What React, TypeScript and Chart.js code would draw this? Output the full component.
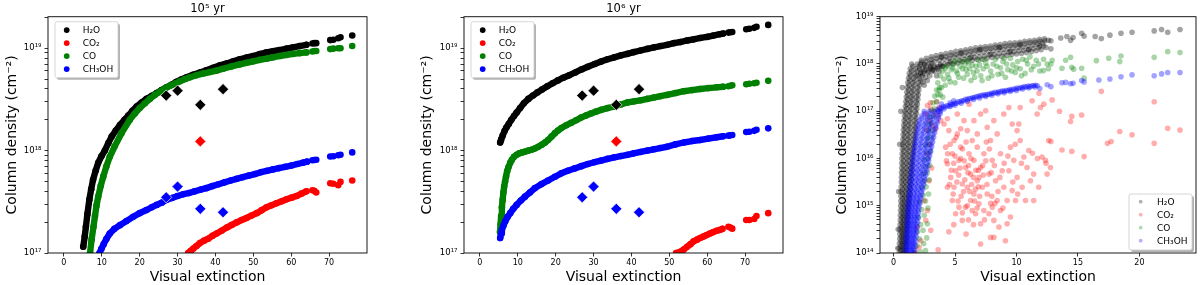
import React, { useEffect, useRef } from 'react';
import { Chart, registerables } from 'chart.js';

Chart.register(...registerables);

type Pt = [number, number];

const FONT = "'DejaVu Sans', 'Liberation Sans', sans-serif";

const SPECIES = ['H₂O', 'CO₂', 'CO', 'CH₃OH'];
const COLORS = ['#000000', '#ff0000', '#008000', '#0000ff'];
const COLORS_A = ['rgba(0,0,0,0.36)', 'rgba(255,0,0,0.32)', 'rgba(0,128,0,0.34)', 'rgba(0,0,255,0.36)'];
const COLORS_LEG = ['rgba(0,0,0,0.3)', 'rgba(255,0,0,0.3)', 'rgba(0,128,0,0.3)', 'rgba(0,0,255,0.3)'];

const P1_TITLE = '10⁵ yr';
const P2_TITLE = '10⁶ yr';
const X_TITLE = 'Visual extinction';
const Y_TITLE = 'Column density (cm⁻²)';

const P12_X_TICKS = [0, 10, 20, 30, 40, 50, 60, 70];
const P3_X_TICKS = [0, 5, 10, 15, 20];
const P12_Y_TICKS = [
  1e17, 2e17, 3e17, 4e17, 5e17, 6e17, 7e17, 8e17, 9e17,
  1e18, 2e18, 3e18, 4e18, 5e18, 6e18, 7e18, 8e18, 9e18,
  1e19, 2e19,
];
const P12_Y_MAJOR = [1e17, 1e18, 1e19];
const P12_Y_LABELS = ['10¹⁷', '10¹⁸', '10¹⁹'];
const P3_Y_TICKS = [
  1e14, 2e14, 3e14, 4e14, 5e14, 6e14, 7e14, 8e14, 9e14,
  1e15, 2e15, 3e15, 4e15, 5e15, 6e15, 7e15, 8e15, 9e15,
  1e16, 2e16, 3e16, 4e16, 5e16, 6e16, 7e16, 8e16, 9e16,
  1e17, 2e17, 3e17, 4e17, 5e17, 6e17, 7e17, 8e17, 9e17,
  1e18, 2e18, 3e18, 4e18, 5e18, 6e18, 7e18, 8e18, 9e18,
  1e19,
];
const P3_Y_MAJOR = [1e14, 1e15, 1e16, 1e17, 1e18, 1e19];
const P3_Y_LABELS = ['10¹⁴', '10¹⁵', '10¹⁶', '10¹⁷', '10¹⁸', '10¹⁹'];

// ---------- observed values (diamonds), same in panels 1 and 2 ----------
const OBS_AV = [27, 30, 36, 42];
const OBS_H2O = [3.45e18, 3.85e18, 2.8e18, 3.98e18];
const OBS_CO2_AV = [36];
const OBS_CO2 = [1.23e18];
const OBS_CH3OH = [3.5e17, 4.45e17, 2.7e17, 2.5e17];

// ---------- panel 1 (10^5 yr): [Av, N cm^-2] ----------
const P1_H2O: Pt[] = [
  [5.1, 1.15e17], [5.5, 1.45e17], [5.8, 1.8e17], [6.2, 2.4e17], [6.7, 3.3e17], [7.2, 4.2e17], [7.7, 5.2e17],
  [8.4, 6.4e17], [9.05, 7.6e17], [9.9, 8.8e17], [10.8, 1.0e18], [11.7, 1.18e18], [12.6, 1.37e18], [13.7, 1.57e18],
  [14.8, 1.78e18], [16, 2.0e18], [17, 2.2e18], [18.1, 2.45e18], [19.2, 2.7e18], [20.5, 2.95e18], [21.8, 3.2e18],
  [23.2, 3.42e18], [24.5, 3.65e18], [25.8, 3.9e18], [27.1, 4.15e18], [28.4, 4.4e18], [29.7, 4.7e18], [31, 4.95e18],
  [32.4, 5.2e18], [34.1, 5.5e18], [35.9, 5.8e18], [37.6, 6.1e18], [39.4, 6.45e18], [41.2, 6.8e18], [43, 7.1e18],
  [44.7, 7.45e18], [46.4, 7.8e18], [48.2, 8.1e18], [50, 8.4e18], [51.7, 8.75e18], [53.5, 9.1e18], [55.2, 9.35e18],
  [57, 9.6e18], [58.8, 9.9e18], [60.5, 1.02e19], [62.2, 1.05e19], [64, 1.08e19],
];
const P1_H2O_TAIL: Pt[] = [
  [65.6, 1.11e19], [66.1, 1.12e19], [66.6, 1.12e19], [70.3, 1.2e19], [71.1, 1.21e19], [72.4, 1.25e19], [73, 1.28e19], [76.1, 1.33e19],
];
const P1_CO2: Pt[] = [
  [32.8, 1.0e17], [33.5, 1.05e17], [34.1, 1.1e17], [35, 1.17e17], [35.9, 1.25e17], [37, 1.32e17], [38.1, 1.38e17],
  [39.2, 1.47e17], [40.3, 1.55e17], [41.6, 1.65e17], [43, 1.77e17], [44.3, 1.88e17], [45.6, 1.99e17], [46.9, 2.1e17],
  [48.2, 2.2e17], [49.5, 2.32e17], [50.9, 2.45e17], [52.2, 2.62e17], [53.5, 2.8e17], [54.8, 2.92e17], [56.1, 3.06e17],
  [57.5, 3.2e17], [58.8, 3.35e17], [60.1, 3.47e17], [61.4, 3.6e17], [62.7, 3.8e17], [64, 4.0e17],
];
const P1_CO2_TAIL: Pt[] = [
  [65.6, 4.1e17], [66.1, 4.05e17], [66.6, 3.9e17], [70.3, 4.8e17], [71.1, 4.75e17], [72.4, 4.6e17], [73, 4.95e17], [76.1, 5.1e17],
];
const P1_CO: Pt[] = [
  [6.9, 1.0e17], [7.3, 1.35e17], [7.8, 1.8e17], [8.2, 2.3e17], [8.6, 2.9e17], [9.05, 3.55e17], [9.7, 4.5e17],
  [10.4, 5.6e17], [11.2, 7.0e17], [12.1, 8.7e17], [13.4, 1.1e18], [15.2, 1.48e18], [17.4, 2.0e18], [18.7, 2.3e18],
  [20, 2.6e18], [21.4, 2.9e18], [22.7, 3.2e18], [24, 3.5e18], [25.3, 3.75e18], [26.7, 4.05e18], [28, 4.3e18],
  [29.3, 4.5e18], [30.6, 4.75e18], [32, 5.0e18], [33.3, 5.2e18], [35, 5.45e18], [36.7, 5.65e18], [38.5, 5.85e18],
  [40.3, 6.05e18], [42, 6.3e18], [44, 6.6e18], [46.4, 6.95e18], [48.2, 7.2e18], [50, 7.45e18], [51.7, 7.7e18],
  [53.5, 7.9e18], [55.2, 8.15e18], [57, 8.4e18], [58.8, 8.6e18], [60.5, 8.8e18], [62.2, 8.95e18], [64, 9.1e18],
];
const P1_CO_TAIL: Pt[] = [
  [65.6, 9.3e18], [66.1, 9.4e18], [66.6, 9.4e18], [70.3, 9.8e18], [71.1, 9.9e18], [72.4, 1.0e19], [73, 1.0e19], [76.1, 1.05e19],
];
const P1_CH3OH: Pt[] = [
  [9.4, 1.0e17], [9.9, 1.1e17], [10.5, 1.22e17], [11.2, 1.37e17], [12.1, 1.55e17], [13.3, 1.72e17], [14.8, 1.87e17],
  [16.5, 2.05e17], [18.3, 2.26e17], [20, 2.45e17], [21.8, 2.63e17], [23.2, 2.8e17], [24.5, 2.95e17], [25.8, 3.1e17],
  [27, 3.3e17], [28.5, 3.45e17], [30, 3.6e17], [31.5, 3.75e17], [33, 3.85e17], [34.5, 4.0e17], [36, 4.15e17],
  [37.6, 4.3e17], [39.2, 4.5e17], [40.8, 4.7e17], [42.4, 4.9e17], [44, 5.1e17], [45.6, 5.3e17], [47.2, 5.5e17],
  [48.8, 5.7e17], [50.4, 5.9e17], [52, 6.15e17], [53.6, 6.35e17], [55.2, 6.55e17], [56.8, 6.75e17], [58.4, 6.95e17],
  [60, 7.15e17], [61.6, 7.4e17], [63.2, 7.65e17], [64.2, 7.8e17],
];
const P1_CH3OH_TAIL: Pt[] = [
  [65.6, 8.05e17], [66.1, 8.1e17], [66.6, 8.15e17], [70.3, 8.75e17], [71.1, 8.8e17], [72.4, 9.0e17], [73, 9.1e17], [76.1, 9.6e17],
];

// ---------- panel 2 (10^6 yr): [Av, N cm^-2] ----------
const P2_H2O: Pt[] = [
  [5.35, 1.2e18], [5.6, 1.28e18], [6.0, 1.4e18], [6.5, 1.55e18], [7.0, 1.68e18], [7.6, 1.82e18], [8.3, 2.0e18],
  [9.0, 2.18e18], [9.7, 2.35e18], [10.6, 2.6e18], [11.6, 2.9e18], [12.8, 3.2e18], [14, 3.45e18], [15.2, 3.7e18],
  [16.4, 3.95e18], [17.8, 4.25e18], [19.2, 4.55e18], [20.6, 4.85e18], [22, 5.15e18], [23.6, 5.45e18], [25.2, 5.8e18],
  [26.8, 6.2e18], [28.5, 6.6e18], [30.3, 7.0e18], [32, 7.4e18], [33.7, 7.8e18], [35.5, 8.15e18], [37.2, 8.5e18],
  [38.9, 8.8e18], [40.6, 9.15e18], [42.4, 9.5e18], [44.2, 9.85e18], [46, 1.02e19], [47.7, 1.05e19], [49.4, 1.08e19],
  [51.2, 1.12e19], [53, 1.15e19], [54.7, 1.19e19], [56.4, 1.22e19], [58.2, 1.26e19], [60, 1.29e19], [61.6, 1.33e19],
  [63.3, 1.37e19], [64.2, 1.39e19],
];
const P2_H2O_TAIL: Pt[] = [
  [65.6, 1.42e19], [66.1, 1.43e19], [66.6, 1.44e19], [70.3, 1.53e19], [71.1, 1.55e19], [72.4, 1.58e19], [73, 1.62e19], [76.1, 1.69e19],
];
const P2_CO2: Pt[] = [
  [51.8, 1.0e17], [52.9, 1.03e17], [53.8, 1.08e17], [54.7, 1.15e17], [55.6, 1.22e17], [56.4, 1.3e17], [57.3, 1.35e17],
  [58.1, 1.4e17], [59, 1.45e17], [59.9, 1.5e17], [60.7, 1.55e17], [61.6, 1.6e17], [62.5, 1.65e17], [63.3, 1.68e17], [64, 1.72e17],
];
const P2_CO2_TAIL: Pt[] = [
  [65.6, 1.8e17], [66.1, 1.77e17], [66.6, 1.73e17], [70.3, 2.1e17], [71.1, 2.1e17], [72.4, 2.15e17], [73, 2.3e17], [76.1, 2.45e17],
];
const P2_CO: Pt[] = [
  [5.3, 1.6e17], [5.45, 1.9e17], [5.6, 2.3e17], [5.8, 2.8e17], [6.0, 3.3e17], [6.2, 3.9e17], [6.4, 4.45e17],
  [6.65, 5.0e17], [6.9, 5.6e17], [7.2, 6.3e17], [7.55, 6.9e17], [8.0, 7.6e17], [8.4, 8.1e17], [9.0, 8.7e17],
  [9.7, 9.1e17], [10.4, 9.4e17], [11.2, 9.6e17], [12, 9.8e17], [12.8, 1.0e18], [13.6, 1.02e18], [14.5, 1.05e18],
  [15.4, 1.09e18], [16.3, 1.14e18], [17.2, 1.2e18], [18, 1.27e18], [18.9, 1.37e18], [19.8, 1.48e18], [20.6, 1.57e18],
  [21.5, 1.66e18], [22.8, 1.77e18], [24.1, 1.87e18], [25.4, 1.98e18], [26.7, 2.1e18], [28, 2.2e18], [29.3, 2.3e18],
  [30.6, 2.4e18], [32, 2.5e18], [33.7, 2.6e18], [35.5, 2.7e18], [37.2, 2.82e18], [38.9, 2.95e18], [40.6, 3.02e18],
  [42.4, 3.1e18], [44.2, 3.2e18], [45.9, 3.3e18], [47.6, 3.4e18], [49.4, 3.5e18], [51.6, 3.65e18], [53.8, 3.8e18],
  [56, 3.9e18], [58.1, 4.0e18], [60.3, 4.08e18], [62.5, 4.15e18], [64.2, 4.2e18],
];
const P2_CO_TAIL: Pt[] = [
  [65.6, 4.25e18], [66.1, 4.3e18], [66.6, 4.35e18], [70.3, 4.45e18], [71.1, 4.5e18], [72.4, 4.55e18], [73, 4.6e18], [76.1, 4.8e18],
];
const P2_CH3OH: Pt[] = [
  [5.35, 1.4e17], [5.6, 1.55e17], [5.8, 1.68e17], [6.2, 1.85e17], [6.7, 2.04e17], [7.3, 2.25e17], [8.0, 2.45e17],
  [8.8, 2.7e17], [9.7, 2.95e17], [10.8, 3.25e17], [11.9, 3.55e17], [13.2, 3.9e17], [14.5, 4.3e17], [16.2, 4.7e17],
  [18, 5.1e17], [19.8, 5.55e17], [21.5, 6.0e17], [23.2, 6.35e17], [25, 6.7e17], [26.8, 7.05e17], [28.5, 7.4e17],
  [30.2, 7.7e17], [32, 8.0e17], [33.7, 8.3e17], [35.5, 8.6e17], [37.2, 8.85e17], [38.9, 9.1e17], [40.6, 9.4e17],
  [42.4, 9.7e17], [44.2, 1.0e18], [45.9, 1.03e18], [47.6, 1.06e18], [49.4, 1.09e18], [51.6, 1.15e18], [53.8, 1.2e18],
  [56, 1.24e18], [58.1, 1.27e18], [60.3, 1.31e18], [62.5, 1.35e18], [64.2, 1.38e18],
];
const P2_CH3OH_TAIL: Pt[] = [
  [65.6, 1.4e18], [66.1, 1.41e18], [66.6, 1.42e18], [70.3, 1.52e18], [71.1, 1.53e18], [72.4, 1.56e18], [73, 1.6e18], [76.1, 1.65e18],
];

// ---------- panel 3 (scatter): [Av, log10 N] ----------
const P3_H2O: Pt[] = [
  [0.45, 14.0], [0.68, 14.0], [0.9, 14.0], [0.47, 14.1], [0.7, 14.1], [0.93, 14.1], [0.48, 14.2], [0.72, 14.2], [0.96, 14.2],
  [0.5, 14.3], [0.74, 14.3], [0.98, 14.3], [0.51, 14.4], [0.76, 14.4], [1.0, 14.4], [0.52, 14.5], [0.78, 14.5], [1.03, 14.5],
  [0.53, 14.6], [0.8, 14.6], [1.06, 14.6], [0.55, 14.7], [0.82, 14.7], [1.08, 14.7], [0.56, 14.8], [0.84, 14.8], [1.1, 14.8],
  [0.57, 14.9], [0.86, 14.9], [1.13, 14.9], [0.58, 15.0], [0.88, 15.0], [1.16, 15.0], [0.59, 15.1], [0.9, 15.1], [1.19, 15.1],
  [0.6, 15.2], [0.92, 15.2], [1.22, 15.2], [0.61, 15.3], [0.94, 15.3], [1.25, 15.3], [0.62, 15.4], [0.96, 15.4], [1.28, 15.4],
  [0.63, 15.5], [0.98, 15.5], [1.31, 15.5], [0.64, 15.6], [1.0, 15.6], [1.34, 15.6], [0.65, 15.7], [1.02, 15.7], [1.37, 15.7],
  [0.66, 15.8], [1.04, 15.8], [1.4, 15.8], [0.67, 15.9], [1.06, 15.9], [1.43, 15.9], [0.68, 16.0], [1.08, 16.0], [1.46, 16.0],
  [0.7, 16.1], [1.1, 16.1], [1.5, 16.1], [0.72, 16.2], [1.12, 16.2], [1.53, 16.2], [0.74, 16.3], [1.14, 16.3], [1.56, 16.3],
  [0.76, 16.4], [1.16, 16.4], [1.59, 16.4], [0.78, 16.5], [1.18, 16.5], [1.62, 16.5], [0.8, 16.6], [1.2, 16.6], [1.65, 16.6],
  [0.83, 16.7], [1.23, 16.7], [1.68, 16.7], [0.86, 16.8], [1.26, 16.8], [1.71, 16.8], [0.89, 16.9], [1.29, 16.9], [1.74, 16.9],
  [0.92, 17.0], [1.32, 17.0], [1.77, 17.0], [0.96, 17.1], [1.36, 17.1], [1.8, 17.1], [1.0, 17.2], [1.4, 17.2], [1.84, 17.2],
  [1.04, 17.3], [1.44, 17.3], [1.88, 17.3], [1.08, 17.4], [1.48, 17.4], [1.92, 17.4], [1.12, 17.5], [1.52, 17.5], [1.97, 17.5],
  [1.16, 17.6], [1.57, 17.6], [2.02, 17.6], [2.4, 17.62], [1.22, 17.7], [1.63, 17.7], [2.1, 17.7], [2.6, 17.72],
  [1.28, 17.8], [1.7, 17.8], [2.2, 17.8], [2.8, 17.82], [3.3, 17.85], [1.36, 17.9], [1.8, 17.9], [2.35, 17.9], [3.0, 17.92], [3.6, 17.94],
  [1.48, 18.0], [1.95, 18.0], [2.5, 18.0], [3.1, 18.02], [3.8, 18.0],
  [0.58, 14.05], [0.81, 14.05], [1.03, 14.05], [0.6, 14.15], [0.83, 14.15], [1.06, 14.15], [0.61, 14.25], [0.85, 14.25], [1.09, 14.25],
  [0.63, 14.35], [0.87, 14.35], [1.11, 14.35], [0.64, 14.45], [0.89, 14.45], [1.14, 14.45], [0.65, 14.55], [0.91, 14.55], [1.17, 14.55],
  [0.66, 14.65], [0.93, 14.65], [1.19, 14.65], [0.68, 14.75], [0.95, 14.75], [1.21, 14.75], [0.69, 14.85], [0.97, 14.85], [1.24, 14.85],
  [0.7, 14.95], [0.99, 14.95], [1.27, 14.95], [0.71, 15.05], [1.01, 15.05], [1.3, 15.05], [0.72, 15.15], [1.03, 15.15], [1.33, 15.15],
  [0.73, 15.25], [1.05, 15.25], [1.36, 15.25], [0.74, 15.35], [1.07, 15.35], [1.39, 15.35], [0.75, 15.45], [1.09, 15.45], [1.42, 15.45],
  [0.76, 15.55], [1.11, 15.55], [1.45, 15.55], [0.77, 15.65], [1.13, 15.65], [1.48, 15.65], [0.78, 15.75], [1.15, 15.75], [1.51, 15.75],
  [0.79, 15.85], [1.17, 15.85], [1.54, 15.85], [0.8, 15.95], [1.19, 15.95], [1.57, 15.95], [0.81, 16.05], [1.21, 16.05], [1.6, 16.05],
  [0.83, 16.15], [1.23, 16.15], [1.63, 16.15], [0.85, 16.25], [1.25, 16.25], [1.66, 16.25], [0.87, 16.35], [1.27, 16.35], [1.69, 16.35],
  [0.89, 16.45], [1.29, 16.45], [1.72, 16.45], [0.91, 16.55], [1.31, 16.55], [1.75, 16.55], [0.93, 16.65], [1.34, 16.65], [1.78, 16.65],
  [0.96, 16.75], [1.37, 16.75], [1.81, 16.75], [0.99, 16.85], [1.4, 16.85], [1.84, 16.85], [1.02, 16.95], [1.43, 16.95], [1.87, 16.95],
  [1.06, 17.05], [1.47, 17.05], [1.9, 17.05], [1.1, 17.15], [1.5, 17.15], [1.94, 17.15], [1.14, 17.25], [1.54, 17.25], [1.98, 17.25],
  [1.18, 17.35], [1.58, 17.35], [2.02, 17.35], [1.22, 17.45], [1.62, 17.45], [2.06, 17.45], [1.26, 17.55], [1.67, 17.55], [2.12, 17.55], [2.5, 17.55],
  [1.32, 17.65], [1.74, 17.65], [2.22, 17.65], [2.75, 17.65], [1.38, 17.75], [1.82, 17.75], [2.35, 17.75], [2.95, 17.75], [3.5, 17.75],
  [1.46, 17.85], [1.92, 17.85], [2.5, 17.85], [3.15, 17.85], [3.7, 17.85], [1.58, 17.95], [2.08, 17.95], [2.65, 17.95], [3.3, 17.95], [3.95, 17.95],
  [0.35, 14.1], [0.38, 14.5], [0.42, 15.3], [0.5, 16.3], [0.6, 17.0], [0.72, 17.5],
  [2.0, 17.75], [2.13, 17.9], [2.27, 18.08], [2.4, 17.8], [2.53, 17.98], [2.67, 18.12], [2.8, 17.85], [2.93, 18.02], [3.07, 18.15],
  [3.2, 17.88], [3.33, 18.05], [3.47, 18.18], [3.6, 17.9], [3.73, 18.08], [3.87, 18.2], [4.0, 17.95], [4.13, 18.1], [4.27, 18.22],
  [4.4, 17.98], [4.53, 18.12], [4.67, 18.24], [4.8, 18.0], [4.93, 18.15], [5.07, 18.27], [5.2, 18.02], [5.33, 18.16], [5.47, 18.28],
  [5.6, 18.05], [5.73, 18.18], [5.87, 18.3], [6.0, 18.06], [6.13, 18.2], [6.27, 18.32], [6.4, 18.08], [6.53, 18.22], [6.67, 18.34],
  [6.8, 18.1], [6.93, 18.24], [7.07, 18.35], [7.2, 18.1], [7.33, 18.25], [7.47, 18.37], [7.6, 18.12], [7.73, 18.27], [7.87, 18.38],
  [8.0, 18.14], [8.13, 18.28], [8.27, 18.4], [8.4, 18.15], [8.53, 18.3], [8.67, 18.41], [8.8, 18.16], [8.93, 18.31], [9.07, 18.43],
  [9.2, 18.18], [9.33, 18.32], [9.47, 18.44], [9.6, 18.2], [9.73, 18.34], [9.87, 18.45], [10.0, 18.21], [10.13, 18.35], [10.27, 18.46],
  [10.4, 18.22], [10.53, 18.36], [10.67, 18.48], [10.8, 18.24], [10.93, 18.38], [11.07, 18.49], [11.2, 18.26], [11.33, 18.4], [11.47, 18.5],
  [11.6, 18.28], [11.73, 18.42], [11.87, 18.52], [12.0, 18.3], [12.13, 18.44], [12.27, 18.53], [12.4, 18.35], [12.6, 18.5],
  [2.2, 17.82], [2.3, 18.04], [2.6, 17.88], [2.7, 18.06], [3.0, 17.9], [3.1, 18.1], [3.4, 17.93], [3.5, 18.12], [3.8, 17.96], [3.9, 18.14],
  [4.2, 18.0], [4.3, 18.16], [4.6, 18.02], [4.7, 18.19], [5.0, 18.05], [5.1, 18.2], [5.4, 18.08], [5.5, 18.24], [5.8, 18.1], [5.9, 18.25],
  [6.2, 18.12], [6.3, 18.27], [6.6, 18.14], [6.7, 18.29], [7.0, 18.15], [7.1, 18.31], [7.4, 18.17], [7.5, 18.32], [7.8, 18.19], [7.9, 18.33],
  [8.2, 18.2], [8.3, 18.35], [8.6, 18.22], [8.7, 18.36], [9.0, 18.23], [9.1, 18.38], [9.4, 18.25], [9.5, 18.39], [9.8, 18.26], [9.9, 18.4],
  [10.2, 18.28], [10.3, 18.42], [10.6, 18.29], [10.7, 18.43], [11.0, 18.31], [11.1, 18.45], [11.4, 18.33], [11.5, 18.46], [11.8, 18.35],
  [11.9, 18.48], [12.2, 18.38], [12.3, 18.49],
  [2.2, 18.0], [3.0, 17.95], [3.9, 18.15], [4.6, 18.06], [5.5, 18.22], [6.3, 18.14], [7.0, 18.3], [7.9, 18.2], [8.6, 18.35],
  [9.5, 18.26], [10.3, 18.4], [11.0, 18.3], [11.9, 18.38],
  [12.8, 18.49], [12.8, 18.32], [13.6, 18.55], [14.1, 18.58], [14.4, 18.5], [14.6, 18.56], [15.3, 18.65], [15.5, 18.59],
  [16.4, 18.58], [16.9, 18.54], [17.6, 18.61], [18.5, 18.65], [19.4, 18.67], [21.2, 18.7], [21.8, 18.73], [22.3, 18.67], [23.3, 18.73],
];
const P3_CO2: Pt[] = [
  [2.76, 17.12], [3.03, 17.05], [2.62, 16.94], [3.3, 17.0], [2.89, 16.8], [3.57, 16.91], [3.16, 16.7], [3.84, 16.8], [3.43, 16.63],
  [4.11, 16.73], [3.7, 17.08], [4.38, 16.84], [3.0, 17.18], [2.7, 16.6], [3.5, 17.2],
  [2.76, 16.1], [2.89, 15.53], [2.49, 15.11], [2.62, 14.69], [2.22, 14.26], [2.08, 14.12], [3.03, 14.48], [1.95, 14.55],
  [2.76, 14.9], [1.81, 14.02], [3.63, 14.07], [2.9, 16.3], [3.1, 15.8],
  [4.5, 16.59], [4.92, 16.38], [4.24, 16.24], [5.19, 16.52], [4.78, 16.1], [5.46, 16.63], [4.38, 15.89], [5.05, 15.74],
  [4.65, 15.6], [5.32, 15.96], [5.59, 15.46], [4.92, 15.39], [5.46, 16.24], [5.19, 16.94], [5.73, 16.8], [4.78, 15.11],
  [5.32, 14.97], [5.59, 14.69], [5.05, 14.83], [4.38, 15.39],
  [6.0, 16.59], [6.4, 16.38], [6.14, 16.1], [6.81, 16.24], [6.54, 15.96], [5.86, 15.81], [7.08, 15.81], [6.27, 15.67],
  [6.81, 15.53], [6.0, 15.39], [6.54, 15.25], [7.22, 15.39], [6.27, 15.11], [6.95, 15.04], [6.68, 14.83], [7.35, 14.9],
  [7.08, 16.94], [6.54, 16.8], [6.14, 17.15], [6.81, 16.52], [7.35, 16.1], [5.86, 14.97], [7.08, 14.62],
  [7.62, 16.66], [8.16, 16.8], [7.89, 16.38], [8.43, 16.52], [8.03, 15.96], [8.7, 16.1], [7.76, 15.67], [8.3, 15.53],
  [8.84, 15.74], [7.62, 15.25], [8.43, 15.11], [8.03, 14.97], [8.7, 14.9], [8.97, 15.39], [8.16, 14.69], [7.76, 14.83],
  [8.57, 14.55], [7.89, 14.33], [8.97, 16.94], [7.49, 17.01], [9.24, 14.62],
  [9.38, 17.08], [9.65, 16.73], [10.05, 16.59], [9.51, 16.24], [10.3, 16.38], [9.78, 15.96], [10.6, 16.03], [9.38, 15.74],
  [10.05, 15.6], [10.86, 15.81], [9.65, 15.32], [10.46, 15.39], [11.14, 15.53], [9.92, 15.11], [10.73, 15.11], [10.19, 16.73],
  [10.3, 17.08], [11.0, 16.17], [9.24, 15.11], [9.51, 14.76],
  [11.4, 15.67], [12.08, 16.03], [12.35, 15.96], [11.68, 16.94], [11.27, 17.22], [12.49, 15.67], [12.76, 15.81], [11.81, 15.39],
  [11.4, 15.11], [11.95, 17.08], [12.22, 17.15], [12.62, 16.38],
  [7.08, 14.19], [8.16, 14.33], [9.1, 14.26], [5.9, 14.4], [6.5, 14.6], [4.5, 14.45],
  [4.6, 16.3], [5.0, 16.05], [5.4, 15.8], [5.8, 15.55], [6.2, 15.3], [6.6, 15.1], [4.9, 15.9], [5.3, 15.65], [5.7, 15.3],
  [6.1, 15.85], [6.5, 15.6], [6.9, 15.4], [7.3, 15.65], [5.1, 16.45], [5.6, 16.2], [6.3, 16.0], [6.9, 15.75], [7.5, 15.95],
  [7.8, 16.2], [8.2, 15.85], [5.5, 15.2], [6.0, 15.0], [6.4, 14.9], [7.0, 15.2], [7.6, 15.45], [8.0, 15.2], [8.5, 15.3],
  [4.4, 16.1], [4.7, 15.75], [5.9, 16.35],
  [4.3, 15.95], [4.55, 15.45], [4.85, 15.25], [5.15, 15.5], [5.45, 16.0], [5.75, 15.95], [6.05, 15.7], [6.35, 15.45], [6.65, 15.35],
  [6.95, 15.6], [7.25, 15.85], [7.55, 16.35], [7.95, 15.7], [8.25, 15.05], [8.65, 15.6], [9.0, 15.9], [9.3, 16.05], [9.7, 15.5],
  [10.1, 15.25], [10.4, 15.9], [5.6, 14.85], [6.1, 14.7], [6.8, 14.95], [7.4, 14.7], [7.9, 15.05], [6.7, 15.75], [5.25, 15.1],
  [4.9, 14.6], [8.9, 14.95], [9.9, 16.3],
  [11.83, 17.38], [15.3, 16.92], [16.9, 17.42], [21.2, 17.2], [23.3, 16.6], [22.3, 16.64], [21.2, 16.32], [19.4, 16.5],
  [18.4, 16.57], [17.7, 16.36], [17.4, 16.32], [15.5, 16.04], [14.5, 16.15], [14.5, 16.89], [14.4, 16.78], [13.7, 16.18],
  [12.8, 16.36], [12.4, 15.9], [11.7, 16.0], [11.3, 16.11], [12.9, 17.24], [13.5, 17.0],
];
const P3_CO: Pt[] = [
  [1.7, 14.0], [2.2, 14.02], [2.6, 14.05], [1.9, 14.15], [2.45, 14.2], [2.1, 14.3], [2.7, 14.32], [1.95, 14.45], [2.4, 14.48],
  [2.2, 14.6], [2.75, 14.62], [2.05, 14.75], [2.5, 14.8], [2.3, 14.92], [2.8, 14.95], [2.15, 15.08], [2.6, 15.1], [2.4, 15.22],
  [2.85, 15.25], [2.3, 15.38], [2.65, 15.4], [2.5, 15.52], [2.9, 15.55], [2.4, 15.68], [2.75, 15.7], [2.6, 15.83], [2.95, 15.85],
  [2.5, 15.98], [2.8, 16.0], [2.7, 16.12], [3.0, 16.15], [2.6, 16.28], [2.9, 16.3], [2.75, 16.42], [3.05, 16.45], [2.85, 16.58],
  [3.15, 16.6], [2.8, 16.72], [3.05, 16.75], [2.95, 16.88], [3.25, 16.9], [3.1, 17.02], [3.35, 17.05], [3.2, 17.18], [3.5, 17.2],
  [3.35, 17.32], [3.6, 17.35], [3.5, 17.45], [3.75, 17.5],
  [3.6, 17.6], [3.8, 17.75], [4.0, 17.85], [4.2, 17.55], [4.3, 17.95], [4.5, 17.7], [4.7, 17.88], [4.9, 18.0], [5.0, 17.6],
  [5.2, 17.8], [5.4, 17.95], [5.5, 18.05], [5.7, 17.7], [5.9, 17.88], [6.1, 18.02], [6.3, 17.65], [6.5, 17.82], [6.7, 17.95],
  [6.9, 18.08], [7.1, 17.75], [7.3, 17.9], [7.5, 18.02], [7.7, 17.7], [7.9, 17.85], [8.1, 18.0], [8.3, 18.1], [8.5, 17.78],
  [8.7, 17.92], [8.9, 18.05], [9.1, 17.72], [9.3, 17.88], [9.5, 18.12], [9.7, 17.98], [9.9, 17.82], [10.1, 18.05], [10.3, 17.9],
  [10.5, 18.1], [10.7, 17.8], [10.9, 18.0], [11.1, 18.15], [11.4, 17.95], [11.6, 18.08], [11.9, 17.85], [12.2, 18.1], [12.6, 17.9],
  [12.8, 18.0], [4.4, 17.78], [4.8, 17.92], [5.3, 17.72], [5.8, 17.98], [6.2, 17.9], [6.6, 17.72], [7.0, 17.98], [4.1, 17.68], [3.9, 17.5],
  [3.7, 17.45], [4.2, 17.9], [4.6, 17.62], [5.1, 17.85], [5.6, 17.9], [6.0, 17.78], [6.4, 17.98], [6.8, 17.85], [7.2, 17.65],
  [7.6, 17.95], [8.0, 17.75], [8.4, 17.95], [8.8, 17.8], [9.2, 18.0], [9.6, 17.85], [10.0, 17.92], [10.4, 17.75], [10.8, 18.08],
  [11.2, 17.88], [11.8, 18.0], [5.0, 18.08], [6.0, 18.1], [7.4, 18.1], [9.0, 18.12], [3.8, 17.35], [4.0, 17.3],
  [12.5, 18.0], [12.2, 17.86], [12.9, 18.08], [13.7, 17.91], [14.0, 18.08], [14.4, 18.14], [14.5, 17.93], [14.65, 17.89],
  [15.3, 17.91], [15.5, 17.7], [16.5, 18.07], [17.5, 18.12], [18.4, 18.05], [18.5, 18.17], [21.2, 18.14], [22.3, 18.26], [23.3, 18.24],
];
const P3_CH3OH: Pt[] = [
  [0.95, 14.0], [1.17, 14.0], [1.38, 14.0], [1.6, 14.0], [0.97, 14.1], [1.2, 14.1], [1.42, 14.1], [1.64, 14.1],
  [0.99, 14.2], [1.22, 14.2], [1.45, 14.2], [1.68, 14.2], [1.01, 14.3], [1.24, 14.3], [1.48, 14.3], [1.72, 14.3],
  [1.03, 14.4], [1.27, 14.4], [1.51, 14.4], [1.76, 14.4], [1.05, 14.5], [1.3, 14.5], [1.55, 14.5], [1.8, 14.5],
  [1.07, 14.6], [1.32, 14.6], [1.58, 14.6], [1.84, 14.6], [1.09, 14.7], [1.35, 14.7], [1.61, 14.7], [1.88, 14.7],
  [1.11, 14.8], [1.38, 14.8], [1.65, 14.8], [1.92, 14.8], [1.13, 14.9], [1.4, 14.9], [1.68, 14.9], [1.96, 14.9],
  [1.15, 15.0], [1.43, 15.0], [1.72, 15.0], [2.0, 15.0], [1.19, 15.1], [1.48, 15.1], [1.78, 15.1], [2.08, 15.1],
  [1.23, 15.2], [1.53, 15.2], [1.84, 15.2], [2.16, 15.2], [1.27, 15.3], [1.58, 15.3], [1.9, 15.3], [2.24, 15.3],
  [1.31, 15.4], [1.63, 15.4], [1.96, 15.4], [2.32, 15.4], [1.35, 15.5], [1.7, 15.5], [2.05, 15.5], [2.4, 15.5],
  [1.39, 15.6], [1.75, 15.6], [2.11, 15.6], [2.48, 15.6], [1.43, 15.7], [1.8, 15.7], [2.18, 15.7], [2.56, 15.7],
  [1.47, 15.8], [1.86, 15.8], [2.25, 15.8], [2.64, 15.8], [1.51, 15.9], [1.91, 15.9], [2.32, 15.9], [2.72, 15.9],
  [1.55, 16.0], [1.97, 16.0], [2.38, 16.0], [2.8, 16.0], [1.61, 16.1], [2.03, 16.1], [2.45, 16.1], [2.88, 16.1],
  [1.67, 16.2], [2.09, 16.2], [2.52, 16.2], [2.96, 16.2], [1.73, 16.3], [2.15, 16.3], [2.59, 16.3], [3.04, 16.3],
  [1.79, 16.4], [2.22, 16.4], [2.66, 16.4], [3.12, 16.4], [1.85, 16.5], [2.3, 16.5], [2.75, 16.5], [3.2, 16.5],
  [1.93, 16.6], [2.38, 16.6], [2.83, 16.6], [3.3, 16.6], [2.02, 16.7], [2.47, 16.7], [2.92, 16.7], [3.4, 16.7],
  [2.1, 16.8], [2.57, 16.8], [3.03, 16.8], [3.5, 16.8], [2.3, 16.9], [2.75, 16.9], [3.2, 16.9], [3.65, 16.9],
  [2.5, 17.0], [2.93, 17.0], [3.36, 17.0], [3.8, 17.0],
  [1.06, 14.05], [1.28, 14.05], [1.5, 14.05], [1.72, 14.05], [1.08, 14.15], [1.31, 14.15], [1.54, 14.15], [1.76, 14.15],
  [1.1, 14.25], [1.33, 14.25], [1.57, 14.25], [1.8, 14.25], [1.12, 14.35], [1.36, 14.35], [1.6, 14.35], [1.84, 14.35],
  [1.14, 14.45], [1.39, 14.45], [1.63, 14.45], [1.88, 14.45], [1.16, 14.55], [1.41, 14.55], [1.67, 14.55], [1.92, 14.55],
  [1.18, 14.65], [1.44, 14.65], [1.7, 14.65], [1.96, 14.65], [1.2, 14.75], [1.47, 14.75], [1.73, 14.75], [2.0, 14.75],
  [1.22, 14.85], [1.49, 14.85], [1.77, 14.85], [2.04, 14.85], [1.24, 14.95], [1.52, 14.95], [1.8, 14.95], [2.08, 14.95],
  [1.27, 15.05], [1.56, 15.05], [1.85, 15.05], [2.14, 15.05], [1.31, 15.15], [1.61, 15.15], [1.91, 15.15], [2.22, 15.15],
  [1.35, 15.25], [1.66, 15.25], [1.97, 15.25], [2.3, 15.25], [1.39, 15.35], [1.71, 15.35], [2.03, 15.35], [2.38, 15.35],
  [1.43, 15.45], [1.77, 15.45], [2.1, 15.45], [2.46, 15.45], [1.47, 15.55], [1.83, 15.55], [2.18, 15.55], [2.54, 15.55],
  [1.51, 15.65], [1.88, 15.65], [2.25, 15.65], [2.62, 15.65], [1.55, 15.75], [1.93, 15.75], [2.31, 15.75], [2.7, 15.75],
  [1.59, 15.85], [1.99, 15.85], [2.38, 15.85], [2.78, 15.85], [1.63, 15.95], [2.04, 15.95], [2.45, 15.95], [2.86, 15.95],
  [1.68, 16.05], [2.1, 16.05], [2.51, 16.05], [2.94, 16.05], [1.74, 16.15], [2.16, 16.15], [2.58, 16.15], [3.02, 16.15],
  [1.8, 16.25], [2.22, 16.25], [2.66, 16.25], [3.1, 16.25], [1.86, 16.35], [2.29, 16.35], [2.73, 16.35], [3.18, 16.35],
  [1.92, 16.45], [2.36, 16.45], [2.8, 16.45], [3.26, 16.45], [1.99, 16.55], [2.44, 16.55], [2.89, 16.55], [3.35, 16.55],
  [2.07, 16.65], [2.52, 16.65], [2.98, 16.65], [3.45, 16.65], [2.16, 16.75], [2.62, 16.75], [3.08, 16.75], [3.55, 16.75],
  [2.3, 16.85], [2.76, 16.85], [3.22, 16.85], [3.65, 16.85], [2.5, 16.95], [2.94, 16.95], [3.38, 16.95], [3.8, 16.95],
  [3.6, 17.03], [3.9, 17.06], [4.2, 17.09], [4.5, 17.11], [4.8, 17.14], [5.1, 17.17], [5.4, 17.2], [5.7, 17.22], [6.0, 17.25],
  [6.3, 17.27], [6.6, 17.29], [6.9, 17.31], [7.2, 17.33], [7.5, 17.34], [7.8, 17.36], [8.1, 17.38], [8.4, 17.39], [8.7, 17.41],
  [9.0, 17.42], [9.3, 17.44], [9.6, 17.45], [9.9, 17.47], [10.2, 17.48], [10.5, 17.5], [10.8, 17.51], [11.1, 17.52], [11.4, 17.54],
  [11.7, 17.54], [11.9, 17.48],
  [3.75, 17.06], [4.05, 17.1], [4.35, 17.12], [4.65, 17.14], [4.95, 17.17], [5.25, 17.2], [5.55, 17.22], [5.85, 17.25], [6.15, 17.27],
  [6.45, 17.29], [6.75, 17.31], [7.05, 17.33], [7.35, 17.35], [7.65, 17.36], [7.95, 17.38], [8.25, 17.4], [8.55, 17.41], [8.85, 17.43],
  [9.15, 17.44], [9.45, 17.46], [9.75, 17.47], [10.05, 17.49], [10.35, 17.5], [10.65, 17.52], [10.95, 17.53], [11.25, 17.54], [11.55, 17.55],
  [3.7, 17.0], [4.1, 17.05], [4.6, 17.1], [5.0, 17.13], [5.5, 17.17], [6.0, 17.21], [6.5, 17.25], [7.0, 17.28], [7.5, 17.31],
  [8.0, 17.34], [8.5, 17.37], [9.0, 17.39], [9.5, 17.42], [10.0, 17.44], [10.5, 17.47], [11.0, 17.49], [11.5, 17.51],
  [4.6, 17.18], [4.9, 17.22], [3.9, 17.15],
  [12.5, 17.56], [12.8, 17.52], [13.7, 17.6], [14.0, 17.61], [14.4, 17.58], [14.6, 17.59], [15.3, 17.65], [15.5, 17.62],
  [16.7, 17.66], [17.6, 17.68], [18.5, 17.73], [19.4, 17.77], [21.2, 17.75], [21.8, 17.79], [22.3, 17.82], [23.3, 17.82],
];

// ---------- helpers ----------
const toXY = (pts: Pt[]) => pts.map(([x, y]) => ({ x, y }));
const logToXY = (pts: Pt[]) => pts.map(([x, l]) => ({ x, y: Math.pow(10, l) }));

function roundRectPath(ctx: CanvasRenderingContext2D, x: number, y: number, w: number, h: number, r: number) {
  ctx.beginPath();
  ctx.moveTo(x + r, y);
  ctx.lineTo(x + w - r, y);
  ctx.arcTo(x + w, y, x + w, y + r, r);
  ctx.lineTo(x + w, y + h - r);
  ctx.arcTo(x + w, y + h, x + w - r, y + h, r);
  ctx.lineTo(x + r, y + h);
  ctx.arcTo(x, y + h, x, y + h - r, r);
  ctx.lineTo(x, y + r);
  ctx.arcTo(x, y, x + r, y, r);
  ctx.closePath();
}

type LegendCfg = {
  corner: 'tl' | 'br';
  dx: number; dy: number; w: number; h: number;
  y0: number; step: number; mx: number; tx: number; r: number;
  colors: string[];
};

function makeFramePlugin(lg: LegendCfg) {
  return {
    id: 'frameAndLegend',
    afterDatasetsDraw(chart: any) {
      const ctx: CanvasRenderingContext2D = chart.ctx;
      const a = chart.chartArea;
      ctx.save();
      ctx.strokeStyle = '#000';
      ctx.lineWidth = 0.9;
      ctx.strokeRect(a.left, a.top, a.right - a.left, a.bottom - a.top);

      const bx = lg.corner === 'tl' ? a.left + lg.dx : a.right - lg.dx - lg.w;
      const by = lg.corner === 'tl' ? a.top + lg.dy : a.bottom - lg.dy - lg.h;
      roundRectPath(ctx, bx + 2, by + 2, lg.w, lg.h, 2);
      ctx.fillStyle = 'rgba(0,0,0,0.3)';
      ctx.fill();
      roundRectPath(ctx, bx, by, lg.w, lg.h, 2);
      ctx.fillStyle = '#ffffff';
      ctx.fill();
      ctx.strokeStyle = '#cccccc';
      ctx.lineWidth = 0.8;
      ctx.stroke();
      ctx.font = `9px ${FONT}`;
      ctx.textBaseline = 'middle';
      ctx.textAlign = 'left';
      SPECIES.forEach((label, i) => {
        const y = by + lg.y0 + i * lg.step;
        ctx.beginPath();
        ctx.arc(bx + lg.mx, y, lg.r, 0, Math.PI * 2);
        ctx.fillStyle = lg.colors[i];
        ctx.fill();
        ctx.fillStyle = '#000';
        ctx.fillText(label, bx + lg.tx, y + 0.5);
      });
      ctx.restore();
    },
  };
}

function xScale(min: number, max: number, ticks: number[]) {
  return {
    type: 'linear',
    position: 'bottom',
    min,
    max,
    afterBuildTicks: (s: any) => { s.ticks = ticks.map((v) => ({ value: v })); },
    afterFit: (s: any) => { s.height = 32; },
    ticks: {
      autoSkip: false, maxRotation: 0, minRotation: 0, padding: 1.5, color: '#000',
      font: { family: FONT, size: 8 },
      callback: (v: any) => String(v),
    },
    grid: { display: true, drawOnChartArea: false, drawTicks: true, tickLength: 3.5, tickColor: '#000', tickWidth: 0.8 },
    border: { display: false },
    title: {
      display: true, text: X_TITLE, color: '#000',
      font: { family: FONT, size: 14, lineHeight: 1 }, padding: { top: 0, bottom: 1 },
    },
  };
}

function yScale(min: number, max: number, ticks: number[], majors: number[], labels: string[], width: number) {
  return {
    type: 'logarithmic',
    position: 'left',
    min,
    max,
    afterBuildTicks: (s: any) => { s.ticks = ticks.map((v) => ({ value: v })); },
    afterFit: (s: any) => { s.width = width; },
    ticks: {
      autoSkip: false, padding: 3, color: '#000',
      font: { family: FONT, size: 8.5 },
      callback: (v: any) => {
        const i = majors.findIndex((m) => Math.abs(m - v) / m < 1e-6);
        return i >= 0 ? labels[i] : '';
      },
    },
    grid: { display: true, drawOnChartArea: false, drawTicks: true, tickLength: 3.5, tickColor: '#000', tickWidth: 0.8 },
    border: { display: false },
    title: {
      display: true, text: Y_TITLE, color: '#000',
      font: { family: FONT, size: 14, lineHeight: 1 }, padding: { top: 5, bottom: 0 },
    },
  };
}

function curveDatasets(dense: Pt[][], tails: Pt[][]) {
  const ds: any[] = [];
  dense.forEach((pts, i) => {
    const c = COLORS[i];
    ds.push({
      label: SPECIES[i], data: toXY(pts), showLine: true, borderColor: c, backgroundColor: c,
      borderWidth: 6.4, borderCapStyle: 'round', borderJoinStyle: 'round',
      pointRadius: 3.3, pointBackgroundColor: c, pointBorderWidth: 0, order: 5 - i, clip: 0,
    });
    ds.push({
      label: SPECIES[i] + ' tail', data: toXY(tails[i]), showLine: false, backgroundColor: c,
      pointRadius: 3.3, pointBackgroundColor: c, pointBorderWidth: 0, order: 5 - i, clip: 0,
    });
  });
  const diamond = (data: any[], c: string) => ({
    label: 'obs', data, showLine: false, pointStyle: 'rectRot', pointRadius: 5.6,
    pointBackgroundColor: c, pointBorderColor: '#ffffff', pointBorderWidth: 0.7, order: 0, clip: 0,
  });
  ds.push(diamond(OBS_AV.map((x, i) => ({ x, y: OBS_H2O[i] })), COLORS[0]));
  ds.push(diamond(OBS_CO2_AV.map((x, i) => ({ x, y: OBS_CO2[i] })), COLORS[1]));
  ds.push(diamond(OBS_AV.map((x, i) => ({ x, y: OBS_CH3OH[i] })), COLORS[3]));
  return ds;
}

function scatterDatasets(series: Pt[][]) {
  return series.map((pts, i) => ({
    label: SPECIES[i], data: logToXY(pts), showLine: false,
    backgroundColor: COLORS_A[i], pointBackgroundColor: COLORS_A[i], pointBorderWidth: 0,
    pointRadius: 2.8, order: 5 - i, clip: 0,
  }));
}

function baseConfig(opts: {
  datasets: any[]; title?: string; padTop: number; padRight: number;
  x: any; y: any; legend: LegendCfg;
}) {
  return {
    type: 'scatter',
    data: { datasets: opts.datasets },
    options: {
      responsive: false,
      maintainAspectRatio: false,
      animation: false,
      events: [],
      layout: { padding: { left: 0, right: opts.padRight, top: opts.padTop, bottom: 0 } },
      scales: { x: opts.x, y: opts.y },
      plugins: {
        legend: { display: false },
        tooltip: { enabled: false },
        title: opts.title
          ? {
              display: true, text: opts.title, color: '#000', fullSize: false,
              font: { family: FONT, size: 11.5, weight: 'normal', lineHeight: 1.15 },
              padding: { top: 2, bottom: 1.5 },
            }
          : { display: false },
      },
    },
    plugins: [makeFramePlugin(opts.legend)],
  };
}

const LEGEND_TL: LegendCfg = { corner: 'tl', dx: 7, dy: 5, w: 63, h: 56, y0: 8.3, step: 13, mx: 11.7, tx: 27.7, r: 2.9, colors: COLORS };
const LEGEND_BR: LegendCfg = { corner: 'br', dx: 4, dy: 3, w: 63, h: 56, y0: 7.7, step: 13, mx: 11.7, tx: 28, r: 1.9, colors: COLORS_LEG };

function Panel({ left, width, makeConfig }: { left: number; width: number; makeConfig: () => any }) {
  const ref = useRef<HTMLCanvasElement | null>(null);
  useEffect(() => {
    if (!ref.current) return;
    const chart = new Chart(ref.current, makeConfig());
    return () => chart.destroy();
  }, []);
  return (
    <canvas
      ref={ref}
      width={width}
      height={285}
      style={{ position: 'absolute', left, top: 0, width, height: 285 }}
    />
  );
}

export default function App() {
  return (
    <div style={{ position: 'fixed', left: 0, top: 0, width: 1200, height: 285, background: '#fff', overflow: 'hidden' }}>
      <Panel
        left={0}
        width={400}
        makeConfig={() =>
          baseConfig({
            datasets: curveDatasets([P1_H2O, P1_CO2, P1_CO, P1_CH3OH], [P1_H2O_TAIL, P1_CO2_TAIL, P1_CO_TAIL, P1_CH3OH_TAIL]),
            title: P1_TITLE, padTop: 0, padRight: 33,
            x: xScale(-4.2, 80, P12_X_TICKS),
            y: yScale(1e17, 2.03e19, P12_Y_TICKS, P12_Y_MAJOR, P12_Y_LABELS, 48),
            legend: LEGEND_TL,
          })
        }
      />
      <Panel
        left={415}
        width={400}
        makeConfig={() =>
          baseConfig({
            datasets: curveDatasets([P2_H2O, P2_CO2, P2_CO, P2_CH3OH], [P2_H2O_TAIL, P2_CO2_TAIL, P2_CO_TAIL, P2_CH3OH_TAIL]),
            title: P2_TITLE, padTop: 0, padRight: 32,
            x: xScale(-4.2, 80, P12_X_TICKS),
            y: yScale(1e17, 2.03e19, P12_Y_TICKS, P12_Y_MAJOR, P12_Y_LABELS, 49),
            legend: LEGEND_TL,
          })
        }
      />
      <Panel
        left={830}
        width={370}
        makeConfig={() =>
          baseConfig({
            datasets: scatterDatasets([P3_H2O, P3_CO2, P3_CO, P3_CH3OH]),
            padTop: 16.7, padRight: 3,
            x: xScale(-1.1, 24.6, P3_X_TICKS),
            y: yScale(1e14, 1e19, P3_Y_TICKS, P3_Y_MAJOR, P3_Y_LABELS, 50),
            legend: LEGEND_BR,
          })
        }
      />
    </div>
  );
}
